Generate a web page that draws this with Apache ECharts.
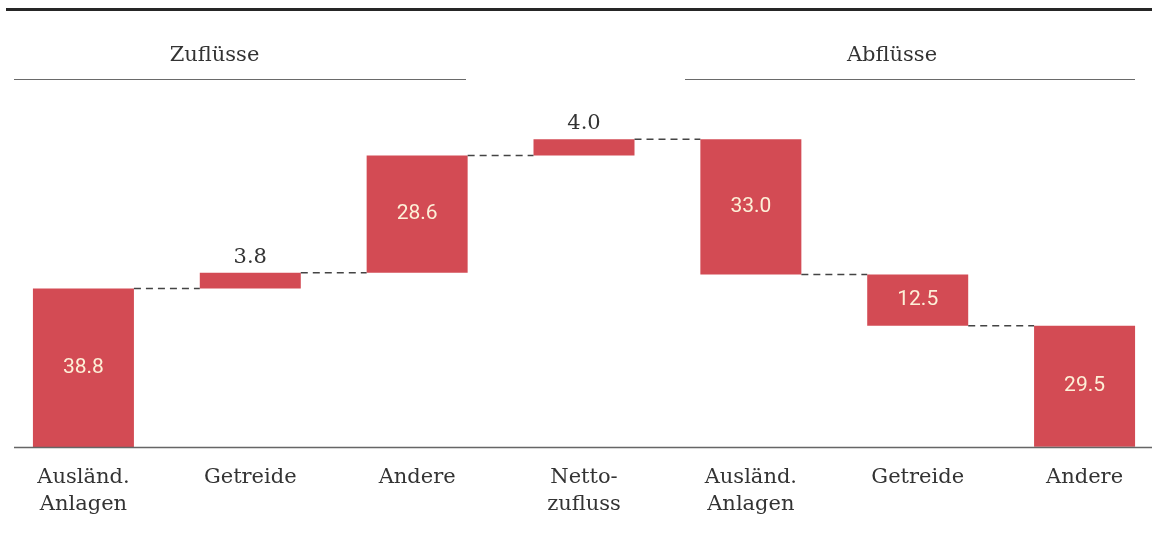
<!DOCTYPE html>
<html>
<head>
<meta charset="utf-8">
<script src="https://cdn.jsdelivr.net/npm/echarts@6/dist/echarts.min.js"></script>
<style>
  html, body { margin: 0; padding: 0; background: #ffffff; overflow: hidden; width: 1152px; height: 557px; }
  #chart { width: 1168px; height: 557px; }
</style>
</head>
<body>
<div id="chart"></div>
<script>
// ---- data ----
const categories = ['Ausländ.\nAnlagen', 'Getreide', 'Andere', 'Netto-\nzufluss', 'Ausländ.\nAnlagen', 'Getreide', 'Andere'];
const values = [38.8, 3.8, 28.6, 4.0, 33.0, 12.5, 29.5];
const kinds = ['in', 'in', 'in', 'net', 'out', 'out', 'out'];
const groupTitles = ['Zuflüsse', 'Abflüsse'];

// ---- derived waterfall geometry (from data) ----
const bases = [];
const ends = [];
let cum = 0;
values.forEach((v, i) => {
  if (kinds[i] === 'out') { cum -= v; bases.push(cum); ends.push(cum); }
  else { bases.push(cum); cum += v; ends.push(cum); }
});
// connector level between bar i and bar i+1 = running total after bar i
const connectors = [];
for (let i = 0; i < values.length - 1; i++) {
  connectors.push([i, ends[i]]);
}

const BAR_W = 101;
const RED = '#d34b54';
const SERIF = '"DejaVu Serif", "Liberation Serif", serif';
const SANS = 'Roboto, "Liberation Sans", sans-serif';

const chart = echarts.init(document.getElementById('chart'), null, { renderer: 'canvas' });

const option = {
  animation: false,
  backgroundColor: '#ffffff',
  grid: { left: 0, right: 0, top: 119.5, height: 328, containLabel: false },
  xAxis: {
    type: 'category',
    data: categories,
    boundaryGap: true,
    axisLine: { show: false },
    axisTick: { show: false },
    splitLine: { show: false },
    axisLabel: {
      interval: 0,
      fontFamily: SERIF,
      fontSize: 21,
      color: '#333333',
      lineHeight: 27,
      margin: 17
    }
  },
  yAxis: { type: 'value', min: 0, max: 80, show: false },
  series: [
    {
      type: 'bar',
      stack: 'wf',
      barWidth: BAR_W,
      silent: true,
      itemStyle: { color: 'rgba(0,0,0,0)' },
      data: bases
    },
    {
      type: 'bar',
      stack: 'wf',
      barWidth: BAR_W,
      itemStyle: { color: RED },
      data: values.map((v) => ({
        value: v,
        label: v < 5 ? {
          show: true,
          position: 'top',
          distance: 5,
          fontFamily: SERIF,
          fontSize: 21,
          color: '#333333',
          formatter: () => v.toFixed(1)
        } : {
          show: true,
          position: 'inside',
          fontFamily: SANS,
          fontSize: 21,
          color: '#fdf0d8',
          formatter: () => v.toFixed(1)
        }
      }))
    },
    {
      type: 'custom',
      silent: true,
      data: connectors,
      renderItem: function (params, api) {
        const p = api.coord([api.value(0), api.value(1)]);
        const band = api.size([1, 0])[0];
        const x1 = p[0] + BAR_W / 2;
        const x2 = p[0] + band - BAR_W / 2;
        return {
          type: 'line',
          shape: { x1: x1, y1: p[1], x2: x2, y2: p[1] },
          style: { stroke: '#444444', lineWidth: 1.5, lineDash: [7, 5] }
        };
      },
      z: 3
    }
  ]
};
chart.setOption(option);

// decorations: axis baseline, top rule, group headers
const y0 = chart.convertToPixel({ gridIndex: 0 }, [0, 0])[1];
chart.setOption({
  graphic: [
    { type: 'line', shape: { x1: 14, y1: y0, x2: 1152, y2: y0 }, style: { stroke: '#666666', lineWidth: 1.5 }, z: 10 },
    { type: 'line', shape: { x1: 6, y1: 9.5, x2: 1152, y2: 9.5 }, style: { stroke: '#262626', lineWidth: 3.2 } },
    { type: 'line', shape: { x1: 14, y1: 79.5, x2: 466, y2: 79.5 }, style: { stroke: '#6a6a6a', lineWidth: 1.2 } },
    { type: 'line', shape: { x1: 685, y1: 79.5, x2: 1135, y2: 79.5 }, style: { stroke: '#6a6a6a', lineWidth: 1.2 } },
    { type: 'text', x: 214.5, y: 56, style: { text: groupTitles[0], font: '21px ' + SERIF, fill: '#333333', textAlign: 'center', textVerticalAlign: 'middle' } },
    { type: 'text', x: 892, y: 56, style: { text: groupTitles[1], font: '21px ' + SERIF, fill: '#333333', textAlign: 'center', textVerticalAlign: 'middle' } }
  ]
});
</script>
</body>
</html>
